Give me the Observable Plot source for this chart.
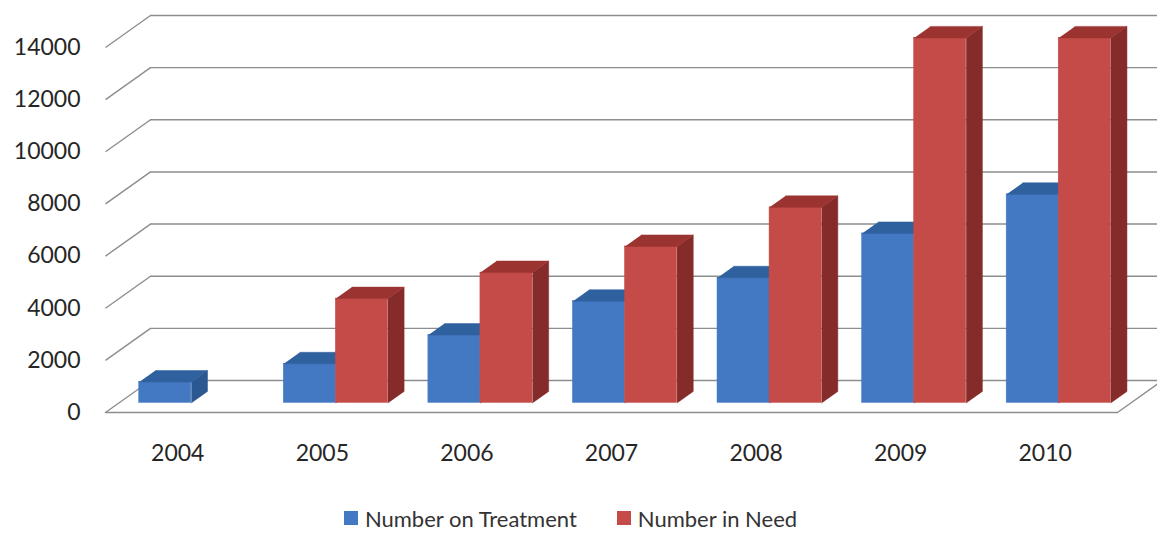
<!DOCTYPE html>
<html>
<head>
<meta charset="utf-8">
<script src="https://cdn.jsdelivr.net/npm/d3@7"></script>
<script src="https://cdn.jsdelivr.net/npm/@observablehq/plot@0.6"></script>
<style>
  html, body { margin: 0; padding: 0; background: #fff; }
  #chart svg { display: block; }
  .legend {
    display: flex; justify-content: center; align-items: center;
    height: 36px; padding-top: 10px; padding-right: 16px;
    font-family: Lato, "Open Sans", sans-serif; font-size: 22px; color: #333;
    gap: 40px;
  }
  .legend span.item { display: flex; align-items: center; gap: 7px; }
  .legend i { display: inline-block; width: 14px; height: 14px; }
</style>
</head>
<body>
<div id="chart"></div>
<script>
// Patients on treatment vs. patients in need, by year
const years = ["2004", "2005", "2006", "2007", "2008", "2009", "2010"];
const onTreatment = [800, 1500, 2600, 3900, 4800, 6500, 8000];
const inNeed = [null, 4000, 5000, 6000, 7500, 14000, 14000];
const yTicks = [0, 2000, 4000, 6000, 8000, 10000, 12000, 14000];
const seriesNames = ["Number on Treatment", "Number in Need"];

// face shades for each series: front, top, side
const blueShades = {front: "#4379c3", top: "#30619f", side: "#2b5890"};
const redShades = {front: "#c44b47", top: "#9b3431", side: "#852b29"};

const W = 1157, H = 490;
const mL = 105, mR = 40, mT = 47, mB = 78;
const nCat = years.length;
const yMax = 14000;
const pxPerCat = (W - mL - mR) / nCat;
const pxPerVal = (H - mT - mB) / yMax;

// depth of the box (floor / walls), converted from pixels to data units
const DX = 45 / pxPerCat;
const DY = 32 / pxPerVal;
// the bars occupy the middle slice of the depth
const t0 = 0.3, t1 = 0.66;
const barW = 0.36, sideGap = 0.14;

function barFaces(values, offset) {
  const front = [], top = [], side = [];
  const bx = (t1 - t0) * DX, by = (t1 - t0) * DY;
  values.forEach((v, i) => {
    if (v == null) return;
    const xL = i + offset + t0 * DX, xR = xL + barW;
    const y0 = t0 * DY, y1 = v + t0 * DY;
    front.push({xL, xR, y0, y1});
    top.push(
      {id: i, x: xL, y: y1}, {id: i, x: xR, y: y1},
      {id: i, x: xR + bx, y: y1 + by}, {id: i, x: xL + bx, y: y1 + by}
    );
    side.push(
      {id: i, x: xR, y: y0}, {id: i, x: xR + bx, y: y0 + by},
      {id: i, x: xR + bx, y: y1 + by}, {id: i, x: xR, y: y1}
    );
  });
  return {front, top, side};
}

function barMarks(faces, shades) {
  return [
    Plot.rect(faces.front, {x1: "xL", x2: "xR", y1: "y0", y2: "y1", fill: shades.front, stroke: shades.front, strokeWidth: 0.5}),
    Plot.line(faces.side, {x: "x", y: "y", z: "id", fill: shades.side, stroke: shades.side, strokeWidth: 0.5}),
    Plot.line(faces.top, {x: "x", y: "y", z: "id", fill: shades.top, stroke: shades.top, strokeWidth: 0.5})
  ];
}

const blueFaces = barFaces(onTreatment, sideGap);
const redFaces = barFaces(inNeed, sideGap + barW);

const gridColor = "#8a8e90";
const floorEdge = [
  {x: 0, y: 0}, {x: nCat, y: 0}, {x: nCat + DX, y: DY}
];

const chart = Plot.plot({
  width: W,
  height: H,
  marginLeft: mL,
  marginRight: mR,
  marginTop: mT,
  marginBottom: mB,
  x: {domain: [0, nCat]},
  y: {domain: [0, yMax]},
  style: {fontFamily: "Lato, 'Open Sans', sans-serif", fontSize: "23px", color: "#262626", background: "#fff"},
  marks: [
    // slanted wall lines and back gridlines
    Plot.link(yTicks, {x1: () => 0, y1: d => d, x2: () => DX, y2: d => d + DY, stroke: gridColor, strokeWidth: 1.4}),
    Plot.ruleY(yTicks, {y: d => d + DY, x1: () => DX, x2: () => nCat + DX, stroke: gridColor, strokeWidth: 1.4}),
    // floor outline
    Plot.line(floorEdge, {x: "x", y: "y", stroke: gridColor, strokeWidth: 1.4, strokeLinejoin: "miter"}),
    ...barMarks(blueFaces, blueShades),
    ...barMarks(redFaces, redShades),
    Plot.axisY({ticks: yTicks, tickSize: 0, tickPadding: 25, tickFormat: d3.format("d"), label: null}),
    Plot.axisX({ticks: years.map((_, i) => i + 0.5), tickFormat: d => years[Math.floor(d)], tickSize: 0, tickPadding: 32, label: null})
  ]
});
document.getElementById("chart").appendChild(chart);

// legend below the chart
const legend = document.createElement("div");
legend.className = "legend";
[[seriesNames[0], blueShades.front], [seriesNames[1], redShades.front]].forEach(([name, color]) => {
  const item = document.createElement("span");
  item.className = "item";
  const sw = document.createElement("i");
  sw.style.background = color;
  item.appendChild(sw);
  item.appendChild(document.createTextNode(name));
  legend.appendChild(item);
});
document.body.appendChild(legend);
</script>
</body>
</html>
